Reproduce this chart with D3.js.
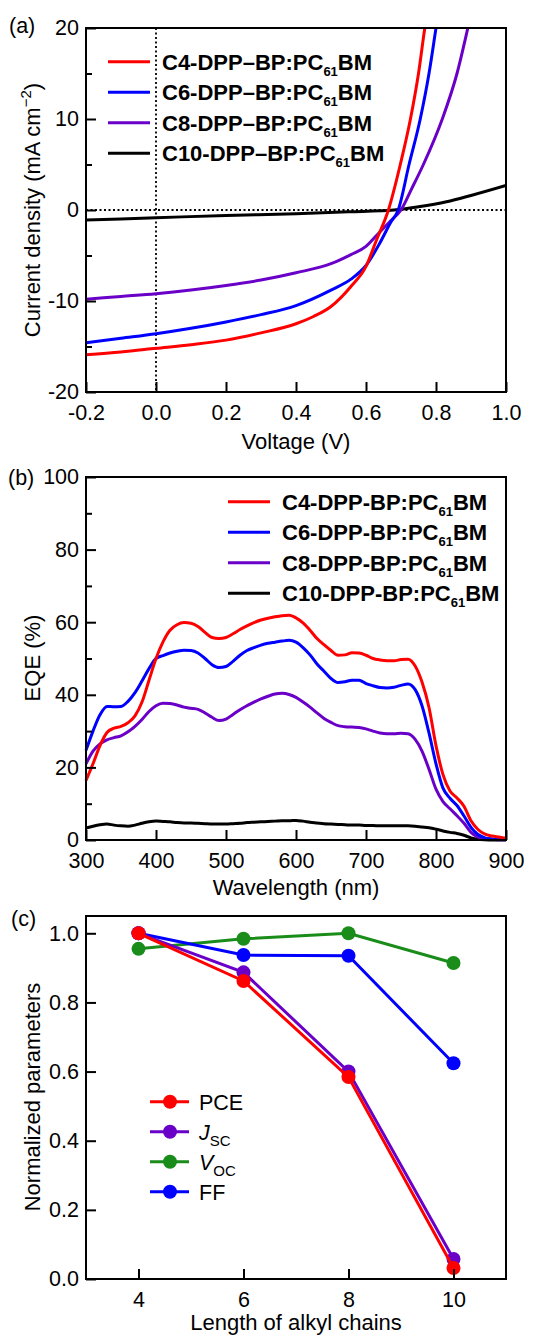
<!DOCTYPE html>
<html>
<head>
<meta charset="utf-8">
<script src="https://cdnjs.cloudflare.com/ajax/libs/d3/7.8.5/d3.min.js"></script>
<style>
body { margin: 0; background: #fff; }
text { font-family: Arial, "Liberation Sans", sans-serif; fill: #000; }
.axis path { display: none; }
.axis line { stroke: #000; stroke-width: 2; }
.axis text { font-size: 21.5px; }
</style>
</head>
<body>
<div id="fig"></div>
<script>
// ---- data ----
var colors = ["#ff0000", "#0000ff", "#6a00c8", "#000000"];
var jvNames = ["C4-DPP\u2013BP:", "C6-DPP\u2013BP:", "C8-DPP\u2013BP:", "C10-DPP\u2013BP:"];
var eqeNames = ["C4-DPP-BP:", "C6-DPP-BP:", "C8-DPP-BP:", "C10-DPP-BP:"];

// (a) J-V curves
var c4V = [-0.2, -0.1, 0, 0.1, 0.2, 0.3, 0.4, 0.45, 0.5, 0.557, 0.6, 0.63, 0.664, 0.698, 0.727, 0.75, 0.768, 0.79];
var c4J = [-15.9, -15.6, -15.2, -14.8, -14.3, -13.5, -12.5, -11.7, -10.6, -8.4, -6.2, -3.3, 0, 5, 10, 15, 20, 25];
var c6V = [-0.2, -0.1, 0, 0.1, 0.2, 0.3, 0.4, 0.5, 0.557, 0.6, 0.64, 0.67, 0.692, 0.723, 0.755, 0.78, 0.8, 0.82];
var c6J = [-14.6, -14.1, -13.6, -13.0, -12.3, -11.5, -10.5, -8.8, -7.6, -6.1, -3.6, -1.4, 0, 5, 10, 15, 20, 25];
var c8V = [-0.2, -0.1, 0, 0.1, 0.2, 0.3, 0.4, 0.5, 0.557, 0.6, 0.63, 0.67, 0.7, 0.73, 0.764, 0.818, 0.86, 0.891, 0.92];
var c8J = [-9.8, -9.5, -9.2, -8.8, -8.3, -7.7, -6.9, -5.9, -4.9, -4.0, -2.8, -1.2, 0, 2.3, 5, 10, 15, 20, 25];
var c10V = [-0.2, 0, 0.2, 0.4, 0.55, 0.68, 0.75, 0.83, 0.9, 1.0];
var c10J = [-1.1, -0.85, -0.6, -0.4, -0.2, 0, 0.35, 0.9, 1.6, 2.7];
var jvXTicks = [-0.2, 0, 0.2, 0.4, 0.6, 0.8, 1.0];
var jvYTicks = [-20, -10, 0, 10, 20];
var jvYMinor = [-15, -5, 5, 15];

// (b) EQE spectra, 300..900 nm every 10 nm
var wl = d3.range(300, 901, 10);
var eqeC4 = [16.4, 21, 26, 29.6, 30.8, 31.3, 32.3, 34.2, 38, 44, 50, 54.6, 57.8, 59.3, 59.9, 59.7, 58.8, 57.2, 55.8, 55.5,
  55.8, 56.8, 58.0, 59.0, 59.9, 60.6, 61.1, 61.5, 61.8, 61.9, 61.2, 59.8, 57.8, 55.5, 53.8, 52.2, 50.9, 51.0, 51.6, 51.5,
  50.9, 50.0, 49.6, 49.4, 49.4, 49.7, 49.8, 48.0, 43.5, 36.5, 26, 18, 13.5, 11.6, 9.3, 5.3, 2.9, 1.6, 1.1, 0.8, 0.5];
var eqeC6 = [24.7, 30, 34.5, 36.8, 36.7, 36.8, 38.2, 40.6, 43.8, 47.2, 50.0, 50.8, 51.5, 52.0, 52.3, 52.2, 51.5, 50.0, 48.3, 47.5,
  47.8, 49.2, 50.9, 52.2, 53.0, 53.7, 54.2, 54.5, 54.8, 55.0, 54.5, 53.0, 51.0, 48.5, 46.5, 44.5, 43.4, 43.6, 44.0, 44.0,
  43.1, 42.5, 42.0, 41.9, 42.1, 42.6, 43.0, 41.5, 37, 29.5, 21, 14.3, 11.5, 9.5, 6.6, 3.5, 1.5, 0.6, 0.3, 0.2, 0.2];
var eqeC8 = [21, 24.5, 26.5, 27.6, 28.2, 28.7, 29.8, 31.3, 33.2, 35.4, 37.0, 37.7, 37.6, 37.2, 36.6, 36.3, 36.0, 35.0, 33.8, 32.9,
  33.3, 34.6, 35.9, 37.0, 38.0, 38.9, 39.6, 40.2, 40.4, 40.1, 39.3, 38.0, 36.6, 35.0, 33.5, 32.4, 31.5, 31.2, 31.1, 31.0,
  30.6, 30.0, 29.5, 29.3, 29.3, 29.4, 29.3, 27.8, 24.5, 19.5, 14, 10.6, 8.6, 6.7, 4.6, 2.1, 0.8, 0.3, 0.2, 0.1, 0.1];
var eqeC10 = [3.3, 3.8, 4.2, 4.4, 4.1, 3.9, 3.8, 4.1, 4.6, 5.0, 5.2, 5.1, 5.0, 4.8, 4.7, 4.7, 4.6, 4.5, 4.4, 4.4,
  4.4, 4.5, 4.6, 4.8, 4.9, 5.0, 5.1, 5.2, 5.3, 5.3, 5.4, 5.2, 4.9, 4.7, 4.5, 4.4, 4.3, 4.2, 4.1, 4.1,
  4.0, 4.0, 3.9, 3.9, 3.9, 3.9, 3.9, 3.8, 3.6, 3.4, 3.0, 2.5, 2.1, 1.8, 1.3, 0.6, 0.2, 0.05, 0, 0, 0];
var eqeXTicks = [300, 400, 500, 600, 700, 800, 900];
var eqeYTicks = [0, 20, 40, 60, 80, 100];
var eqeYMinor = [10, 30, 50, 70, 90];

// (c) normalized parameters
var chains = [4, 6, 8, 10];
var pce = [1.0, 0.862, 0.584, 0.032];
var jsc = [1.0, 0.887, 0.600, 0.058];
var voc = [0.955, 0.984, 1.0, 0.914];
var ff = [1.0, 0.937, 0.935, 0.624];
var parColors = ["#ff0000", "#6a00c8", "#1a8c1a", "#0000ff"];
var chainTicks = [4, 6, 8, 10];
var normTicks = [0, 0.2, 0.4, 0.6, 0.8, 1.0];

// ---- layout ----
var left = 86, right = 506;
var svg = d3.select("#fig").append("svg")
  .attr("width", 543)
  .attr("height", 1336);

function dash(s) { return s.replace("\u2212", "-"); }

function frame(top, bottom) {
  svg.append("rect")
    .attr("x", left).attr("y", top)
    .attr("width", right - left).attr("height", bottom - top)
    .attr("fill", "none").attr("stroke", "#000").attr("stroke-width", 2);
}

function axes(x, y, top, bottom, xt, yt, ym, xf, yf) {
  svg.append("g").attr("class", "axis")
    .attr("transform", "translate(" + left + ",0)")
    .call(d3.axisLeft(y).tickValues(yt).tickSize(-10).tickPadding(7)
      .tickFormat(function(d) { return dash(yf(d)); }));
  if (ym) {
    svg.append("g").attr("class", "axis")
      .attr("transform", "translate(" + left + ",0)")
      .call(d3.axisLeft(y).tickValues(ym).tickSize(-6).tickFormat(""));
  }
  svg.append("g").attr("class", "axis")
    .attr("transform", "translate(0," + bottom + ")")
    .call(d3.axisBottom(x).tickValues(xt).tickSize(-10).tickPadding(13)
      .tickFormat(function(d) { return dash(xf(d)); }));
}

function title(txt, x, y, rot) {
  var t = svg.append("text")
    .attr("text-anchor", "middle")
    .attr("font-size", 22)
    .attr("transform", "translate(" + x + "," + y + ")" + (rot ? " rotate(-90)" : ""));
  if (txt) t.text(txt);
  return t;
}

function pcbm(sel, name) {
  sel.append("tspan").text(name + "PC");
  sel.append("tspan").attr("font-size", 13).attr("dy", 6).text("61");
  sel.append("tspan").attr("dy", -6).text("BM");
}

function legend(names, x0, y0, step) {
  var g = svg.append("g");
  names.forEach(function(n, i) {
    var y = y0 + i * step;
    g.append("line")
      .attr("x1", x0).attr("x2", x0 + 42)
      .attr("y1", y).attr("y2", y)
      .attr("stroke", colors[i]).attr("stroke-width", 3);
    var t = g.append("text")
      .attr("x", x0 + 54).attr("y", y + 8)
      .attr("font-size", 22).attr("font-weight", "bold");
    pcbm(t, n);
  });
}

// ---- (a) J-V ----
var xa = d3.scaleLinear().domain([-0.2, 1.0]).range([left, right]);
var ya = d3.scaleLinear().domain([-20, 20]).range([392, 28]);

svg.append("clipPath").attr("id", "clipa").append("rect")
  .attr("x", left).attr("y", 28).attr("width", right - left).attr("height", 364);

svg.append("line")
  .attr("x1", xa(-0.2)).attr("x2", xa(1.0)).attr("y1", ya(0)).attr("y2", ya(0))
  .attr("stroke", "#000").attr("stroke-width", 1.8).attr("stroke-dasharray", "2,2.5");
svg.append("line")
  .attr("x1", xa(0)).attr("x2", xa(0)).attr("y1", ya(20)).attr("y2", ya(-20))
  .attr("stroke", "#000").attr("stroke-width", 1.8).attr("stroke-dasharray", "2,2.5");

var lineA = d3.line()
  .x(function(d) { return xa(d[0]); })
  .y(function(d) { return ya(d[1]); })
  .curve(d3.curveMonotoneX);

var jvData = [d3.zip(c4V, c4J), d3.zip(c6V, c6J), d3.zip(c8V, c8J), d3.zip(c10V, c10J)];
svg.append("g").attr("clip-path", "url(#clipa)")
  .selectAll("path")
  .data([3, 2, 1, 0])
  .enter().append("path")
  .attr("d", function(i) { return lineA(jvData[i]); })
  .attr("fill", "none")
  .attr("stroke", function(i) { return colors[i]; })
  .attr("stroke-width", 3);

frame(28, 392);
axes(xa, ya, 28, 392, jvXTicks, jvYTicks, jvYMinor, d3.format(".1f"), d3.format("d"));
legend(jvNames, 108, 61.7, 30.5);
title("Voltage (V)", 296, 449);
var ta = title(null, 40, 210, true);
ta.append("tspan").text("Current density (mA cm");
ta.append("tspan").attr("font-size", 15).attr("dy", -9).text("\u22122");
ta.append("tspan").attr("dy", 9).text(")");
svg.append("text").attr("x", 9).attr("y", 33).attr("font-size", 21.5).text("(a)");

// ---- (b) EQE ----
var xb = d3.scaleLinear().domain([300, 900]).range([left, right]);
var yb = d3.scaleLinear().domain([0, 100]).range([840, 477]);

var lineB = d3.line()
  .x(function(d) { return xb(d[0]); })
  .y(function(d) { return yb(d[1]); })
  .curve(d3.curveMonotoneX);

var eqeData = [d3.zip(wl, eqeC4), d3.zip(wl, eqeC6), d3.zip(wl, eqeC8), d3.zip(wl, eqeC10)];
svg.append("g")
  .selectAll("path")
  .data([3, 2, 1, 0])
  .enter().append("path")
  .attr("d", function(i) { return lineB(eqeData[i]); })
  .attr("fill", "none")
  .attr("stroke", function(i) { return colors[i]; })
  .attr("stroke-width", 3);

frame(477, 840);
axes(xb, yb, 477, 840, eqeXTicks, eqeYTicks, eqeYMinor, d3.format("d"), d3.format("d"));
legend(eqeNames, 228, 501.7, 30.5);
title("Wavelength (nm)", 296, 895);
title("EQE (%)", 40, 658, true);
svg.append("text").attr("x", 8).attr("y", 485).attr("font-size", 21.5).text("(b)");

// ---- (c) normalized parameters ----
var xc = d3.scaleLinear().domain([3, 11]).range([left, right]);
var yc = d3.scaleLinear().domain([0, 1.05]).range([1279, 916]);

var params = [
  { key: "voc", vals: voc, c: parColors[2] },
  { key: "ff", vals: ff, c: parColors[3] },
  { key: "jsc", vals: jsc, c: parColors[1] },
  { key: "pce", vals: pce, c: parColors[0] }
];

var lineC = d3.line()
  .x(function(d) { return xc(d[0]); })
  .y(function(d) { return yc(d[1]); });

var pg = svg.append("g")
  .selectAll("g")
  .data(params)
  .enter().append("g");
pg.append("path")
  .attr("d", function(p) { return lineC(d3.zip(chains, p.vals)); })
  .attr("fill", "none")
  .attr("stroke", function(p) { return p.c; })
  .attr("stroke-width", 3);
pg.selectAll("circle")
  .data(function(p) { return d3.zip(chains, p.vals).map(function(d) { return { x: d[0], y: d[1], c: p.c }; }); })
  .enter().append("circle")
  .attr("cx", function(d) { return xc(d.x); })
  .attr("cy", function(d) { return yc(d.y); })
  .attr("r", 7)
  .attr("fill", function(d) { return d.c; });

frame(916, 1279);
axes(xc, yc, 916, 1279, chainTicks, normTicks, null, d3.format("d"), d3.format(".1f"));
title("Length of alkyl chains", 296, 1330);
title("Normalized parameters", 40, 1097, true);
svg.append("text").attr("x", 11).attr("y", 926).attr("font-size", 21.5).text("(c)");

// legend (c)
var legC = [
  { main: "PCE", sub: "", c: parColors[0] },
  { main: "J", sub: "SC", c: parColors[1] },
  { main: "V", sub: "OC", c: parColors[2] },
  { main: "FF", sub: "", c: parColors[3] }
];
legC.forEach(function(l, i) {
  var y = 1101.7 + i * 30;
  svg.append("line")
    .attr("x1", 150).attr("x2", 189).attr("y1", y).attr("y2", y)
    .attr("stroke", l.c).attr("stroke-width", 3);
  svg.append("circle").attr("cx", 170).attr("cy", y).attr("r", 7).attr("fill", l.c);
  var t = svg.append("text").attr("x", 199).attr("y", y + 8).attr("font-size", 21.5);
  if (l.sub) {
    t.append("tspan").attr("font-style", "italic").text(l.main);
    t.append("tspan").attr("font-size", 15).attr("dy", 6).text(l.sub);
  } else {
    t.text(l.main);
  }
});
</script>
</body>
</html>
